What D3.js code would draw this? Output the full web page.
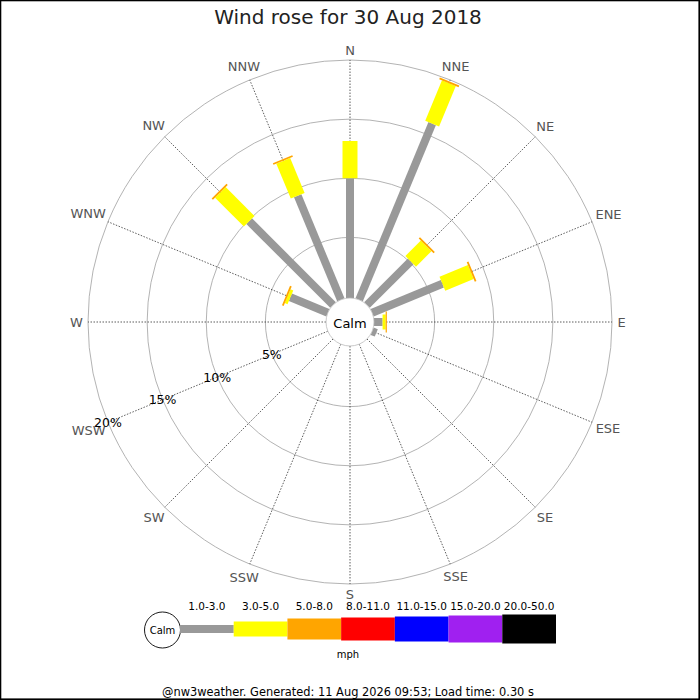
<!DOCTYPE html>
<html>
<head>
<meta charset="utf-8">
<script src="https://cdn.jsdelivr.net/npm/d3@7"></script>
<style>
  body { margin: 0; background: #fff; }
  svg { display: block; font-family: 'DejaVu Sans', sans-serif; }
</style>
</head>
<body>
<svg id="rose" width="700" height="700"></svg>
<script>
// Wind rose data (percent of time per direction, by speed band)
const directions = ['N', 'NNE', 'NE', 'ENE', 'E', 'ESE', 'SE', 'SSE',
                    'S', 'SSW', 'SW', 'WSW', 'W', 'WNW', 'NW', 'NNW'];
const speedBins = ['1.0-3.0', '3.0-5.0', '5.0-8.0', '8.0-11.0', '11.0-15.0', '15.0-20.0', '20.0-50.0'];

const band1to3   = [10.0, 16.0, 5.1, 6.3, 0.6, 0.25, 0, 0, 0, 0, 0, 0, 0, 3.3, 9.9, 9.4];
const band3to5   = [3.15, 3.7, 1.85, 2.6, 0.26, 0, 0, 0, 0, 0, 0, 0, 0, 0.25, 3.45, 3.2];
const band5to8   = [0, 0.15, 0.15, 0.15, 0.1, 0, 0, 0, 0, 0, 0, 0, 0, 0.15, 0.15, 0.15];
const band8to11  = new Array(16).fill(0);
const band11to15 = new Array(16).fill(0);
const band15to20 = new Array(16).fill(0);
const band20to50 = new Array(16).fill(0);

const ringTicks = [5, 10, 15, 20];

const title = 'Wind rose for 30 Aug 2018';
const footer = '@nw3weather. Generated: 11 Aug 2026 09:53; Load time: 0.30 s';

const bands = [band1to3, band3to5, band5to8, band8to11, band11to15, band15to20, band20to50];

const svg = d3.select('#rose');
const cx = 350, cy = 322;
const calmR = 24;

// Scales
const rScale = d3.scaleLinear().domain([0, 20]).range([25.5, 262]);
const angle = d3.scalePoint().domain(directions).range([0, 360 - 22.5]);
const colour = d3.scaleOrdinal().domain(speedBins)
  .range(['#999999', '#ffff00', '#ffa500', '#ff0000', '#0000ff', '#a020f0', '#000000']);
const thickness = d3.scaleOrdinal().domain(speedBins).range([8, 15, 21, 23, 25, 27, 29]);

const px = (dir, r) => cx + r * Math.sin(angle(dir) * Math.PI / 180);
const py = (dir, r) => cy - r * Math.cos(angle(dir) * Math.PI / 180);

// Border
svg.append('rect')
  .attr('x', 0.5).attr('y', 0.5).attr('width', 698.7).attr('height', 698.7)
  .attr('fill', 'none').attr('stroke', '#000').attr('stroke-width', 1.6);

// Title
svg.append('text')
  .attr('x', 348).attr('y', 24)
  .attr('text-anchor', 'middle')
  .attr('font-size', 20)
  .attr('fill', '#222')
  .text(title);

const plot = svg.append('g');

// Rings
plot.selectAll('.ring')
  .data(ringTicks)
  .join('circle')
  .attr('class', 'ring')
  .attr('cx', cx).attr('cy', cy)
  .attr('r', d => rScale(d))
  .attr('fill', 'none')
  .attr('stroke', '#aaa')
  .attr('stroke-width', 0.9);

// Direction spokes
plot.selectAll('.spoke')
  .data(directions)
  .join('line')
  .attr('class', 'spoke')
  .attr('x1', d => px(d, calmR)).attr('y1', d => py(d, calmR))
  .attr('x2', d => px(d, rScale(20))).attr('y2', d => py(d, rScale(20)))
  .attr('stroke', '#333')
  .attr('stroke-width', 0.8)
  .attr('stroke-dasharray', '1.5,1.5');

// Direction labels
plot.selectAll('.dir-label')
  .data(directions)
  .join('text')
  .attr('class', 'dir-label')
  .attr('font-size', 13)
  .attr('fill', '#555')
  .attr('text-anchor', 'middle')
  .attr('dominant-baseline', 'central')
  .text(d => d)
  .each(function(d) {
    const a = angle(d) * Math.PI / 180;
    const halfW = this.getComputedTextLength() / 2;
    const r = 268 + halfW * Math.abs(Math.sin(a)) * 0.85 + 4 * Math.abs(Math.cos(a));
    d3.select(this).attr('x', px(d, r)).attr('y', py(d, r));
  });

// Bars: stacked segments per direction
const segments = [];
directions.forEach((dir, i) => {
  let start = 0;
  bands.forEach((band, j) => {
    const v = band[i];
    if (v > 0) {
      segments.push({ dir, bin: speedBins[j], r0: start === 0 ? calmR : rScale(start), r1: rScale(start + v) });
      start += v;
    }
  });
});

plot.selectAll('.seg')
  .data(segments)
  .join('line')
  .attr('class', 'seg')
  .attr('x1', d => px(d.dir, d.r0)).attr('y1', d => py(d.dir, d.r0))
  .attr('x2', d => px(d.dir, d.r1)).attr('y2', d => py(d.dir, d.r1))
  .attr('stroke', d => colour(d.bin))
  .attr('stroke-width', d => thickness(d.bin))
  .attr('stroke-linecap', 'butt');

// Calm circle
plot.append('circle')
  .attr('cx', cx).attr('cy', cy).attr('r', calmR)
  .attr('fill', '#fff')
  .attr('stroke', '#bbb')
  .attr('stroke-width', 0.8);

plot.append('text')
  .attr('x', cx).attr('y', cy + 1)
  .attr('text-anchor', 'middle')
  .attr('dominant-baseline', 'central')
  .attr('font-size', 13)
  .text('Calm');

// Ring labels along WSW
plot.selectAll('.ring-label')
  .data(ringTicks)
  .join('text')
  .attr('class', 'ring-label')
  .attr('x', d => px('WSW', rScale(d)))
  .attr('y', d => py('WSW', rScale(d)))
  .attr('text-anchor', 'middle')
  .attr('dominant-baseline', 'central')
  .attr('font-size', 12.5)
  .text(d => `${d}%`);

// Legend
const legend = svg.append('g');
const legendX = d3.scaleBand().domain(speedBins).range([180, 556]);
const legendY = 629;

legend.append('circle')
  .attr('cx', 162.5).attr('cy', 630).attr('r', 18)
  .attr('fill', '#fff')
  .attr('stroke', '#000')
  .attr('stroke-width', 0.9);

legend.append('text')
  .attr('x', 162.5).attr('y', 630.5)
  .attr('text-anchor', 'middle')
  .attr('dominant-baseline', 'central')
  .attr('font-size', 10)
  .text('Calm');

legend.selectAll('.key')
  .data(speedBins)
  .join('rect')
  .attr('class', 'key')
  .attr('x', d => legendX(d))
  .attr('y', d => legendY - thickness(d) / 2)
  .attr('width', legendX.bandwidth())
  .attr('height', d => thickness(d))
  .attr('fill', d => colour(d));

legend.selectAll('.key-label')
  .data(speedBins)
  .join('text')
  .attr('class', 'key-label')
  .attr('x', d => legendX(d) + legendX.bandwidth() / 2)
  .attr('y', 610)
  .attr('text-anchor', 'middle')
  .attr('font-size', 10.5)
  .text(d => d);

legend.append('text')
  .attr('x', 348).attr('y', 658)
  .attr('text-anchor', 'middle')
  .attr('font-size', 10)
  .text('mph');

// Footer
svg.append('text')
  .attr('x', 348).attr('y', 696)
  .attr('text-anchor', 'middle')
  .attr('font-size', 11.4)
  .text(footer);
</script>
</body>
</html>
